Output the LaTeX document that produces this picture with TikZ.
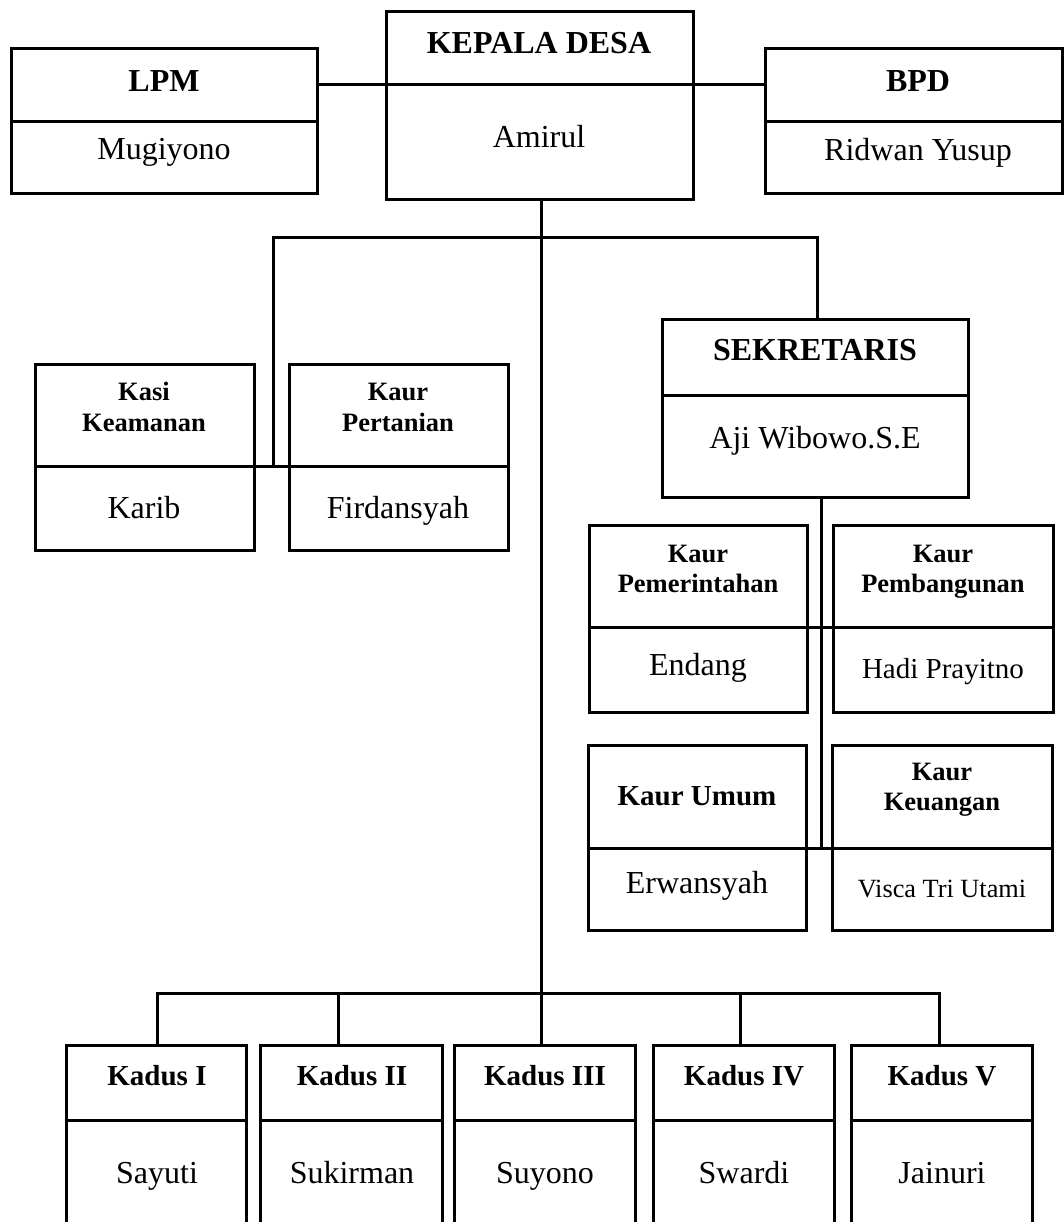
\documentclass[tikz,border=0pt]{standalone}
\usepackage{fontspec}
\setmainfont{Liberation Serif}
\usetikzlibrary{fit}
\tikzset{
  obox/.style={draw, line width=1.5pt, inner sep=0pt, outer sep=0pt},
  ln/.style={line width=1.5pt},
  big/.style={font=\fontsize{16}{19}\selectfont, anchor=base, inner sep=0pt},
  bigb/.style={font=\bfseries\fontsize{16}{19}\selectfont, anchor=base, inner sep=0pt},
  medb/.style={font=\bfseries\fontsize{14.5}{17}\selectfont, anchor=base, inner sep=0pt},
  med/.style={font=\fontsize{14.5}{17}\selectfont, anchor=base, inner sep=0pt},
  smb/.style={font=\bfseries\fontsize{13.25}{15.5}\selectfont, anchor=base, inner sep=0pt},
  sm/.style={font=\fontsize{13.15}{15.5}\selectfont, anchor=base, inner sep=0pt},
}
\newcommand{\orgbox}[6]{%
  \node[obox, fit={(#2,#3) (#4,#5)}] (#1) {};
  \coordinate (#1-dl) at (#2,#6);
  \coordinate (#1-dr) at (#4,#6);
  \draw[ln] (#1-dl) -- (#1-dr);
}
\begin{document}
\begin{tikzpicture}[x=0.5pt,y=-0.5pt]
\useasboundingbox (0,0) rectangle (1064,1222);
\clip (0,0) rectangle (1064,1222);
\fill[white] (0,0) rectangle (1064,1222);

% boxes
\orgbox{lpm}{11}{48}{317}{193}{121}
\orgbox{kd}{386}{11}{693}{199}{84}
\orgbox{bpd}{765}{48}{1062}{193}{121}
\orgbox{sek}{662}{319}{968}{497}{395}
\orgbox{kasi}{35}{364}{254}{550}{466}
\orgbox{kpt}{289}{364}{508}{550}{466}
\orgbox{kpm}{589}{525}{807}{712}{627}
\orgbox{kpb}{833}{525}{1053}{712}{627}
\orgbox{kum}{588}{745}{806}{930}{848}
\orgbox{kku}{832}{745}{1052}{930}{848}
\orgbox{kdI}{66}{1045}{246}{1260}{1120}
\orgbox{kdII}{260}{1045}{442}{1260}{1120}
\orgbox{kdIII}{454}{1045}{635}{1260}{1120}
\orgbox{kdIV}{653}{1045}{834}{1260}{1120}
\orgbox{kdV}{851}{1045}{1032}{1260}{1120}

% texts
\node[bigb] (kd-a) at (539,53) {KEPALA DESA};
\node[big] (kd-b) at (539,147) {Amirul};
\node[bigb] (lpm-a) at (164,91) {LPM};
\node[big] (lpm-b) at (164,159) {Mugiyono};
\node[bigb] (bpd-a) at (918,91) {BPD};
\node[big] (bpd-b) at (918,160) {Ridwan Yusup};
\node[bigb] (sek-a) at (815,360) {SEKRETARIS};
\node[big] (sek-b) at (815,448) {Aji Wibowo.S.E};
\node[smb] (kasi-a) at (144,400) {Kasi};
\node[smb] (kasi-a2) at (144,431) {Keamanan};
\node[big] (kasi-b) at (144,518) {Karib};
\node[smb] (kpt-a) at (398,400) {Kaur};
\node[smb] (kpt-a2) at (398,431) {Pertanian};
\node[big] (kpt-b) at (398,518) {Firdansyah};
\node[smb] (kpm-a) at (698,562) {Kaur};
\node[smb] (kpm-a2) at (698,592) {Pemerintahan};
\node[big] (kpm-b) at (698,675) {Endang};
\node[smb] (kpb-a) at (943,562) {Kaur};
\node[smb] (kpb-a2) at (943,592) {Pembangunan};
\node[med] (kpb-b) at (943,678) {Hadi Prayitno};
\node[medb] (kum-a) at (697,805) {Kaur Umum};
\node[big] (kum-b) at (697,893) {Erwansyah};
\node[smb] (kku-a) at (942,780) {Kaur};
\node[smb] (kku-a2) at (942,810) {Keuangan};
\node[sm] (kku-b) at (942,897) {Visca Tri Utami};
\node[medb] (kdI-a) at (157,1085) {Kadus I};
\node[big] (kdI-b) at (157,1183) {Sayuti};
\node[medb] (kdII-a) at (352,1085) {Kadus II};
\node[big] (kdII-b) at (352,1183) {Sukirman};
\node[medb] (kdIII-a) at (545,1085) {Kadus III};
\node[big] (kdIII-b) at (545,1183) {Suyono};
\node[medb] (kdIV-a) at (744,1085) {Kadus IV};
\node[big] (kdIV-b) at (744,1183) {Swardi};
\node[medb] (kdV-a) at (942,1085) {Kadus V};
\node[big] (kdV-b) at (942,1183) {Jainuri};

% connectors
\coordinate (lk) at (0,84);
\draw[ln] (lpm.east |- lk) -- (kd.west |- lk);
\draw[ln] (kd.east |- lk) -- (bpd.west |- lk);
\coordinate (trunk) at (541,993);
\draw[ln] (kd.south -| trunk) -- (trunk);
\coordinate (bl) at (273,237);
\coordinate (br) at (817,237);
\draw[ln] (bl |- kasi-dr) -- (bl) -- (br) -- (br |- sek.north);
\draw[ln] (kasi-dr) -- (kpt-dl);
\coordinate (sv) at (821,848);
\draw[ln] (sek.south -| sv) -- (sv);
\draw[ln] (kpm-dr) -- (kpb-dl);
\draw[ln] (kum-dr) -- (kku-dl);
\coordinate (b1) at (157,993);
\coordinate (b2) at (338,993);
\coordinate (b4) at (740,993);
\coordinate (b5) at (939,993);
\draw[ln] (b1 |- kdI.north) -- (b1) -- (b5) -- (b5 |- kdV.north);
\draw[ln] (b2) -- (b2 |- kdII.north);
\draw[ln] (trunk) -- (trunk |- kdIII.north);
\draw[ln] (b4) -- (b4 |- kdIV.north);
\end{tikzpicture}
\end{document}
